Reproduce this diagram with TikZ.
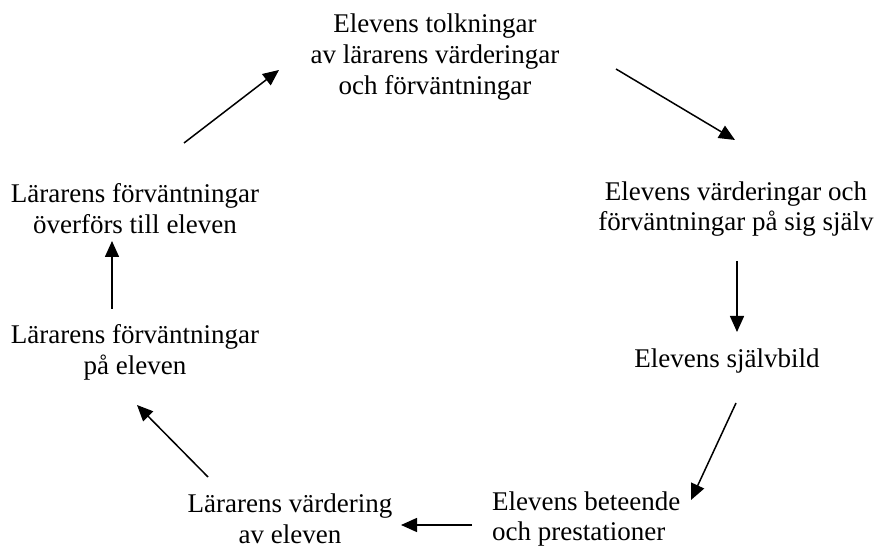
\documentclass[tikz,border=0pt]{standalone}
\usepackage{fontspec}
\setmainfont{Liberation Serif}
\usetikzlibrary{arrows.meta}

\begin{document}
\begin{tikzpicture}[x=1pt,y=1pt]
  \path[use as bounding box] (0,0) rectangle (874,548);
  \fill[white] (0,0) rectangle (874,548);

  \tikzset{label/.style={align=center,inner sep=0pt,font=\fontsize{27}{30.8}\selectfont},
    arrow/.style={-{Triangle[length=16pt,width=14pt]},line width=1.5pt,draw=black}}

  \node[label] (tolkning) at (435,491)
    {Elevens tolkningar\\ av lärarens värderingar\\ och förväntningar};
  \node[label] (elevvarde) at (736,339)
    {Elevens värderingar och\\ förväntningar på sig själv};
  \node[label] (sjalvbild) at (727,187) {Elevens självbild};
  \node[label,align=left,anchor=west] (beteende) at (492,29)
    {Elevens beteende\\ och prestationer};
  \node[label] (lararvarde) at (290,29)
    {Lärarens värdering\\ av eleven};
  \node[label] (forvantan) at (135,196)
    {Lärarens förväntningar\\ på eleven};
  \node[label] (overfors) at (135,339)
    {Lärarens förväntningar\\ överförs till eleven};

  \draw[arrow] ([shift={(49,66)}]overfors.center) -- ([shift={(-156,-13)}]tolkning.center);
  \draw[arrow] ([shift={(181,-12)}]tolkning.center) -- ([shift={(-1,69)}]elevvarde.center);
  \draw[arrow] ([shift={(1,-52)}]elevvarde.center) -- ([shift={(10,29)}]sjalvbild.center);
  \draw[arrow] ([shift={(9,-42)}]sjalvbild.center) -- ([shift={(199,19)}]beteende.west);
  \draw[arrow] ([shift={(-20,-6)}]beteende.west) -- ([shift={(111,-6)}]lararvarde.center);
  \draw[arrow] ([shift={(-82,42)}]lararvarde.center) -- ([shift={(2,-53)}]forvantan.center);
  \draw[arrow] ([shift={(-23,43)}]forvantan.center) -- ([shift={(-23,-32)}]overfors.center);
\end{tikzpicture}
\end{document}
